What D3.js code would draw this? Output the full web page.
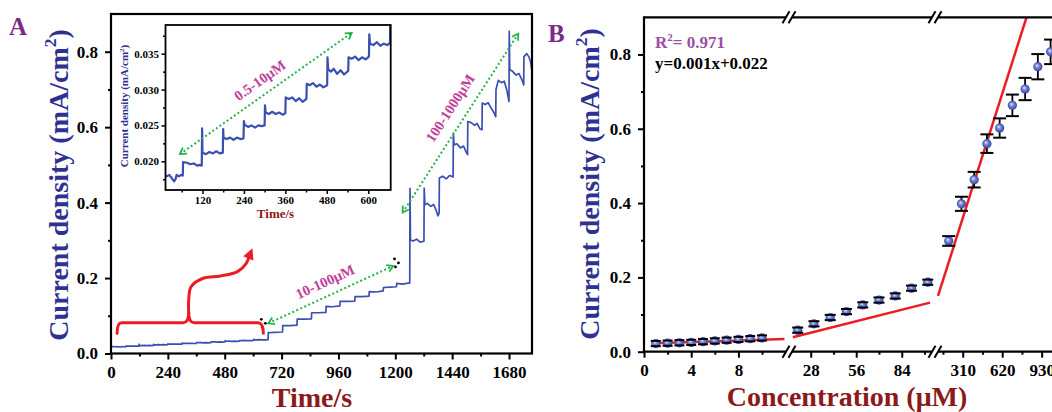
<!DOCTYPE html>
<html><head><meta charset="utf-8">
<script src="https://cdn.jsdelivr.net/npm/d3@7"></script>
<style>
html,body{margin:0;padding:0;background:#fff;}
svg{display:block;}
text{font-family:"Liberation Serif","Times New Roman",serif;font-weight:bold;}
</style></head><body>
<svg id="chart" width="1052" height="412"></svg>
<script>
// ================= DATA =================
// Panel A: amperometric current–time trace
const traceTime = [0,8,16,24,32,38,42,45,52,58,63,64,75,85,95,105,112,118,
 119,120,130,140,150,160,170,179,180,181,190,200,210,220,230,239,
 240,242,252,262,272,282,292,300,301,303,312,322,332,342,352,360,
 361,370,380,390,400,410,421,422,430,440,450,460,470,481,
 482,484,492,500,510,520,530,542,543,552,562,572,582,592,602,
 603,605,615,625,635,645,655,663,
 664,665,690,724,725,755,785,786,815,846,847,875,907,908,935,966,
 967,1000,1029,1030,1060,1089,1090,1120,1149,1150,1180,1205,1206,1230,1261,
 1262,1264,1275,1290,1305,1321,
 1322,1325,1335,1350,1362,1372,1380,1385,
 1386,1400,1415,1430,1444,
 1445,1448,1460,1475,1488,1498,1505,
 1506,1520,1535,1545,1558,1566,
 1567,1580,1592,1605,1615,1624,
 1625,1635,1648,1660,1670,1680,
 1681,1683,1695,1710,1722,1735,1742,
 1743,1755,1765,1772,1780];
const traceCurrent = [0.0184,0.0182,0.0179,0.0181,0.0176,0.0172,0.0175,0.0181,0.0179,0.0181,0.0180,0.0199,0.0198,0.0196,0.0197,0.0194,0.0195,0.0194,
 0.0246,0.0212,0.0210,0.0213,0.0211,0.0214,0.0211,0.0212,0.0245,0.0233,0.0231,0.0233,0.0230,0.0233,0.0231,0.0232,
 0.0256,0.0251,0.0248,0.0250,0.0247,0.0250,0.0249,0.0250,0.0278,0.0268,0.0266,0.0269,0.0266,0.0268,0.0265,0.0267,
 0.0289,0.0287,0.0289,0.0284,0.0288,0.0283,0.0287,0.0308,0.0306,0.0309,0.0304,0.0307,0.0303,0.0306,
 0.0345,0.0328,0.0325,0.0329,0.0322,0.0327,0.0321,0.0326,0.0345,0.0343,0.0346,0.0341,0.0345,0.0342,0.0346,
 0.0377,0.0364,0.0362,0.0366,0.0361,0.0364,0.0362,0.0365,
 0.0560,0.055,0.056,0.057,0.074,0.074,0.075,0.091,0.091,0.092,0.108,0.108,0.109,0.125,0.124,0.126,
 0.138,0.138,0.139,0.151,0.151,0.152,0.164,0.163,0.166,0.175,0.176,0.177,0.186,0.184,0.187,
 0.438,0.301,0.298,0.303,0.295,0.298,
 0.438,0.394,0.398,0.390,0.395,0.380,0.365,0.372,
 0.465,0.470,0.463,0.472,0.468,
 0.584,0.553,0.556,0.545,0.550,0.535,0.527,
 0.615,0.612,0.605,0.610,0.595,0.593,
 0.664,0.660,0.665,0.650,0.640,0.628,
 0.700,0.724,0.718,0.722,0.700,0.668,
 0.854,0.752,0.748,0.738,0.742,0.725,0.712,
 0.787,0.795,0.785,0.770,0.734];
const aXTicks = [0,240,480,720,960,1200,1440,1680];
const aXMinor = [120,360,600,840,1080,1320,1560];
const aYTicks = [0,0.2,0.4,0.6,0.8];
const aYMinor = [0.1,0.3,0.5,0.7];
const insetXTicks = [120,240,360,480,600];
const insetXMinor = [60,180,300,420,540];
const insetYTicks = [0.020,0.025,0.030,0.035];
const insetYMinor = [0.0175,0.0225,0.0275,0.0325,0.0375];

// Panel B: calibration (concentration µM, current density mA/cm²)
const concLow  = [1,2,3,4,5,6,7,8,9,10];
const densLow  = [0.022,0.023,0.024,0.025,0.027,0.029,0.031,0.033,0.035,0.037];
const errLow   = [0.007,0.007,0.007,0.007,0.007,0.007,0.007,0.007,0.007,0.007];
const concMid  = [20,30,40,50,60,70,80,90,100];
const densMid  = [0.058,0.075,0.092,0.108,0.126,0.139,0.150,0.171,0.187];
const errMid   = [0.007,0.007,0.007,0.007,0.007,0.007,0.007,0.007,0.007];
const concHigh = [200,300,400,500,600,700,800,900,1000];
const densHigh = [0.298,0.398,0.463,0.560,0.602,0.663,0.707,0.767,0.807];
const errHigh  = [0.013,0.019,0.021,0.025,0.026,0.029,0.030,0.034,0.033];
const fitLowX = [0.8,11.9],   fitLowY = [0.023,0.034];
const fitMidX = [17,101.4],   fitMidY = [0.039,0.132];
const fitHighX = [116,811],   fitHighY = [0.150,0.900];
const bTicksLow = [0,4,8],      bMinorLow = [2,6,10];
const bTicksMid = [28,56,84],   bMinorMid = [42,70,98];
const bTicksHigh = [310,620,930], bMinorHigh = [155,465,775];
const bYTicks = [0,0.2,0.4,0.6,0.8], bYMinor = [0.1,0.3,0.5,0.7];

// ================= STYLE =================
const BLUE_T = "#2e3192", RED_T = "#8b1a1a", TRACE = "#3a4fb1", GREEN = "#26b24b",
      MAG = "#c1409b", RED = "#ec1c24", PURPLE = "#7b2b8a", RPURP = "#9a4fa6";

const svg = d3.select("#chart");
const defs = svg.append("defs");

function styleAxis(g, fs, sw) {
  g.select(".domain").remove();
  g.selectAll("line").attr("stroke", "#000").attr("stroke-width", sw || 2);
  g.selectAll("text").attr("font-size", fs).attr("fill", "#000")
    .attr("font-family", '"Liberation Serif","Times New Roman",serif').attr("font-weight", "bold");
}
function yTitle(x, y, size, color) {
  const t = svg.append("text").attr("transform", `translate(${x},${y}) rotate(-90)`)
    .attr("text-anchor", "middle").attr("font-size", size).attr("fill", color);
  t.append("tspan").text("Current density (mA/cm");
  t.append("tspan").attr("font-size", size * 0.62).attr("dy", -size * 0.42).text("2");
  t.append("tspan").attr("dy", size * 0.42).text(")");
  return t;
}
function dblArrow(g, x1, y1, x2, y2) {
  g.append("line").attr("x1", x1).attr("y1", y1).attr("x2", x2).attr("y2", y2)
    .attr("stroke", GREEN).attr("stroke-width", 2).attr("stroke-dasharray", "2,2.4");
  const a = Math.atan2(y2 - y1, x2 - x1), h = 7, w = 0.55;
  [[x1, y1, a], [x2, y2, a + Math.PI]].forEach(([px, py, b]) => {
    g.append("path").attr("d",
      `M${px + h * Math.cos(b + w)},${py + h * Math.sin(b + w)}L${px},${py}L${px + h * Math.cos(b - w)},${py + h * Math.sin(b - w)}`)
      .attr("fill", "none").attr("stroke", GREEN).attr("stroke-width", 1.8);
  });
  return Math.atan2(y2 - y1, x2 - x1) * 180 / Math.PI;
}
function dots(g, x, y) {
  [[-2, -4], [2, 0], [-1, 4]].forEach(([dx, dy]) =>
    g.append("circle").attr("cx", x + dx).attr("cy", y + dy).attr("r", 1.4).attr("fill", "#000"));
}

// ================= PANEL A =================
const ax = d3.scaleLinear().domain([0, 1777]).range([111, 532]);
const ay = d3.scaleLinear().domain([0, 0.9]).range([353.5, 14]);
const gA = svg.append("g");

defs.append("clipPath").attr("id", "clipA").append("rect")
  .attr("x", ax.range()[0]).attr("y", ay.range()[1]).attr("width", ax.range()[1] - ax.range()[0]).attr("height", ay.range()[0] - ay.range()[1]);

const idx = d3.range(traceTime.length);
gA.append("path").attr("clip-path", "url(#clipA)")
  .attr("d", d3.line().x(i => ax(traceTime[i])).y(i => ay(traceCurrent[i]))(idx))
  .attr("fill", "none").attr("stroke", TRACE).attr("stroke-width", 1.7).attr("stroke-linejoin", "round");

gA.append("g").attr("transform", `translate(0,${ay(0)})`)
  .call(d3.axisBottom(ax).tickValues(aXTicks).tickSize(6).tickPadding(6.5).tickFormat(d3.format("d"))).call(styleAxis, 17);
gA.append("g").attr("transform", `translate(0,${ay(0)})`)
  .call(d3.axisBottom(ax).tickValues(aXMinor).tickSize(3).tickFormat("")).call(styleAxis, 17);
gA.append("g").attr("transform", `translate(${ax(0)},0)`)
  .call(d3.axisLeft(ay).tickValues(aYTicks).tickSize(6).tickPadding(7).tickFormat(d3.format(".1f"))).call(styleAxis, 17);
gA.append("g").attr("transform", `translate(${ax(0)},0)`)
  .call(d3.axisLeft(ay).tickValues(aYMinor).tickSize(3).tickFormat("")).call(styleAxis, 17);
gA.append("rect").attr("x", ax.range()[0]).attr("y", ay.range()[1])
  .attr("width", ax.range()[1] - ax.range()[0]).attr("height", ay.range()[0] - ay.range()[1])
  .attr("fill", "none").attr("stroke", "#000").attr("stroke-width", 2.2);

// ---- inset ----
const ix = d3.scaleLinear().domain([13, 665]).range([165.5, 390.7]);
const iy = d3.scaleLinear().domain([0.016, 0.039]).range([190, 25]);
const gI = svg.append("g");
gI.append("rect").attr("x", 165.5).attr("y", 25).attr("width", 225.2).attr("height", 165).attr("fill", "#fff");
defs.append("clipPath").attr("id", "clipI").append("rect")
  .attr("x", ix.range()[0]).attr("y", iy.range()[1]).attr("width", ix.range()[1] - ix.range()[0]).attr("height", iy.range()[0] - iy.range()[1]);
const idxI = idx.filter(i => traceTime[i] <= 700);
gI.append("path").attr("clip-path", "url(#clipI)")
  .attr("d", d3.line().x(i => ix(traceTime[i])).y(i => iy(Math.min(traceCurrent[i], 0.045)))(idxI))
  .attr("fill", "none").attr("stroke", TRACE).attr("stroke-width", 2.2).attr("stroke-linejoin", "round");
gI.append("g").attr("transform", `translate(0,${iy.range()[0]})`)
  .call(d3.axisBottom(ix).tickValues(insetXTicks).tickSize(4).tickPadding(2.5).tickFormat(d3.format("d"))).call(styleAxis, 11, 1.5);
gI.append("g").attr("transform", `translate(0,${iy.range()[0]})`)
  .call(d3.axisBottom(ix).tickValues(insetXMinor).tickSize(2.5).tickFormat("")).call(styleAxis, 11, 1.5);
gI.append("g").attr("transform", `translate(${ix.range()[0]},0)`)
  .call(d3.axisLeft(iy).tickValues(insetYTicks).tickSize(4).tickPadding(2.5).tickFormat(d3.format(".3f"))).call(styleAxis, 11, 1.5);
gI.append("g").attr("transform", `translate(${ix.range()[0]},0)`)
  .call(d3.axisLeft(iy).tickValues(insetYMinor).tickSize(2.5).tickFormat("")).call(styleAxis, 11, 1.5);
gI.append("rect").attr("x", 165.5).attr("y", 25).attr("width", 225.2).attr("height", 165)
  .attr("fill", "none").attr("stroke", "#000").attr("stroke-width", 1.8);
{
  const t = gI.append("text").attr("transform", "translate(128,106) rotate(-90)")
    .attr("text-anchor", "middle").attr("font-size", 11).attr("fill", BLUE_T);
  t.append("tspan").text("Current density (mA/cm");
  t.append("tspan").attr("font-size", 7).attr("dy", -4.5).text("2");
  t.append("tspan").attr("dy", 4.5).text(")");
}
gI.append("text").attr("x", 275.5).attr("y", 218).attr("text-anchor", "middle")
  .attr("font-size", 13).attr("fill", RED_T).text("Time/s");
{
  const ang = dblArrow(gI, ix(55), iy(0.0210), ix(552), iy(0.0379));
  gI.append("text").attr("transform", `translate(${ix(286)},${iy(0.0313)}) rotate(${ang})`)
    .attr("text-anchor", "middle").attr("dy", "0.35em").attr("font-size", 14.5).attr("fill", MAG).text("0.5-10μM");
}

// ---- annotations in main panel ----
{
  const g = svg.append("g");
  const a1 = dblArrow(g, ax(664), ay(0.080), ax(1191), ay(0.232));
  g.append("text").attr("transform", `translate(${ax(903)},${ay(0.1905)}) rotate(${a1})`)
    .attr("text-anchor", "middle").attr("dy", "0.35em").attr("font-size", 14.5).attr("fill", MAG).text("10-100μM");
  const a2 = dblArrow(g, ax(1231), ay(0.3736), ax(1719), ay(0.8477));
  g.append("text").attr("transform", `translate(${ax(1431)},${ay(0.6506)}) rotate(${a2})`)
    .attr("text-anchor", "middle").attr("dy", "0.35em").attr("font-size", 14.5).attr("fill", MAG).text("100-1000μM");
  dots(g, ax(643), ay(0.080));
  dots(g, ax(1205), ay(0.240));

  // red brace + curved arrow
  const yl = ay(0.0817), cx = ax(328);
  const br = `M${ax(25.7)},${ay(0.0536)} Q${ax(25.7)},${yl} ${ax(45)},${yl} L${ax(305)},${yl} Q${cx},${yl} ${cx},${ay(0.108)}`
           + ` M${ax(643)},${ay(0.0536)} Q${ax(643)},${yl} ${ax(620)},${yl} L${ax(351)},${yl} Q${cx},${yl} ${cx},${ay(0.108)}`;
  g.append("path").attr("d", br).attr("fill", "none").attr("stroke", RED).attr("stroke-width", 3).attr("stroke-linecap", "round");
  const curveT = [328, 328, 338, 389, 462, 534, 571, 586];
  const curveV = [0.106, 0.142, 0.177, 0.1995, 0.2056, 0.217, 0.239, 0.262];
  const pts = curveT.map((t, i) => [ax(t), ay(curveV[i])]);
  g.append("path").attr("d", d3.line().curve(d3.curveCatmullRom)(pts))
    .attr("fill", "none").attr("stroke", RED).attr("stroke-width", 3).attr("stroke-linecap", "round");
  const [px, py] = pts[pts.length - 1], [qx, qy] = pts[pts.length - 2];
  const b = Math.atan2(py - qy, px - qx), L = 11, W = 5.5;
  const tip = [px + 7 * Math.cos(b), py + 7 * Math.sin(b)];
  const base = [tip[0] - L * Math.cos(b), tip[1] - L * Math.sin(b)];
  g.append("path").attr("d",
    `M${tip[0]},${tip[1]}L${base[0] + W * Math.sin(b)},${base[1] - W * Math.cos(b)}L${base[0] - W * Math.sin(b)},${base[1] + W * Math.cos(b)}Z`)
    .attr("fill", RED);
}

svg.append("text").attr("x", 9).attr("y", 35).attr("font-size", 25).attr("fill", PURPLE).text("A");
yTitle(68, 185, 28, BLUE_T);
svg.append("text").attr("x", 312).attr("y", 407).attr("text-anchor", "middle").attr("font-size", 28).attr("fill", RED_T).text("Time/s");

// ================= PANEL B =================
const by = d3.scaleLinear().domain([0, 0.9]).range([351.7, 17.3]);
const bx1 = d3.scaleLinear().domain([0, 12.03]).range([644, 786]);
const bx2 = d3.scaleLinear().domain([16.5, 102.6]).range([792, 932]);
const bx3 = d3.scaleLinear().domain([116, 1388]).range([938, 1100]);
const gB = svg.append("g");

const grad = defs.append("radialGradient").attr("id", "ball").attr("cx", "50%").attr("cy", "50%").attr("r", "55%").attr("fx", "38%").attr("fy", "35%");
grad.append("stop").attr("offset", "0%").attr("stop-color", "#eef0ff");
grad.append("stop").attr("offset", "35%").attr("stop-color", "#7f8ee0");
grad.append("stop").attr("offset", "100%").attr("stop-color", "#2a3892");

defs.append("clipPath").attr("id", "clipB").append("rect").attr("x", 644).attr("y", 17.3).attr("width", 460).attr("height", 334.4);

// fit lines
[[bx1, fitLowX, fitLowY], [bx2, fitMidX, fitMidY], [bx3, fitHighX, fitHighY]].forEach(([sx, X, Y]) => {
  gB.append("line").attr("clip-path", "url(#clipB)")
    .attr("x1", sx(X[0])).attr("y1", by(Y[0])).attr("x2", sx(X[1])).attr("y2", by(Y[1]))
    .attr("stroke", RED).attr("stroke-width", 2.5);
});

// points with error bars
[[bx1, concLow, densLow, errLow, 5], [bx2, concMid, densMid, errMid, 5.5], [bx3, concHigh, densHigh, errHigh, 6.5]].forEach(([sx, X, Y, E, cw]) => {
  X.forEach((c, i) => {
    const x = sx(c);
    gB.append("line").attr("x1", x).attr("x2", x).attr("y1", by(Y[i] - E[i])).attr("y2", by(Y[i] + E[i]))
      .attr("stroke", "#000").attr("stroke-width", 1.8);
  });
  X.forEach((c, i) => {
    gB.append("circle").attr("cx", sx(c)).attr("cy", by(Y[i])).attr("r", 4.6).attr("fill", "url(#ball)");
  });
  X.forEach((c, i) => {
    const x = sx(c);
    [Y[i] - E[i], Y[i] + E[i]].forEach(v =>
      gB.append("line").attr("x1", x - cw).attr("x2", x + cw).attr("y1", by(v)).attr("y2", by(v))
        .attr("stroke", "#000").attr("stroke-width", 2));
  });
});

// axes
gB.append("g").attr("transform", `translate(644,0)`)
  .call(d3.axisLeft(by).tickValues(bYTicks).tickSize(6).tickPadding(7).tickFormat(d3.format(".1f"))).call(styleAxis, 17);
gB.append("g").attr("transform", `translate(644,0)`)
  .call(d3.axisLeft(by).tickValues(bYMinor).tickSize(3).tickFormat("")).call(styleAxis, 17);
[[bx1, bTicksLow, bMinorLow], [bx2, bTicksMid, bMinorMid], [bx3, bTicksHigh, bMinorHigh]].forEach(([sx, T, M]) => {
  gB.append("g").attr("transform", `translate(0,${by(0)})`)
    .call(d3.axisBottom(sx).tickValues(T).tickSize(6).tickPadding(6.5).tickFormat(d3.format("d"))).call(styleAxis, 17);
  gB.append("g").attr("transform", `translate(0,${by(0)})`)
    .call(d3.axisBottom(sx).tickValues(M).tickSize(3).tickFormat("")).call(styleAxis, 17);
  [by(0), by(0.9)].forEach(yy =>
    gB.append("line").attr("x1", sx.range()[0]).attr("x2", sx.range()[1]).attr("y1", yy).attr("y2", yy)
      .attr("stroke", "#000").attr("stroke-width", 2.2));
});
gB.append("line").attr("x1", 644).attr("x2", 644).attr("y1", by(0) + 1).attr("y2", by(0.9) - 1).attr("stroke", "#000").attr("stroke-width", 2.2);
// axis-break marks
[[bx1.range()[1], bx2.range()[0]], [bx2.range()[1], bx3.range()[0]]].forEach(([a, b]) => {
  [by(0), by(0.9)].forEach(yy => {
    [a, b].forEach(c => gB.append("line").attr("x1", c - 3.5).attr("y1", yy + 6).attr("x2", c + 3.5).attr("y2", yy - 6)
      .attr("stroke", "#000").attr("stroke-width", 2));
  });
});

{
  const t = gB.append("text").attr("x", 655).attr("y", 48).attr("font-size", 17).attr("fill", RPURP);
  t.append("tspan").text("R");
  t.append("tspan").attr("font-size", 11).attr("dy", -7).text("2");
  t.append("tspan").attr("dy", 7).text("= 0.971");
  gB.append("text").attr("x", 655).attr("y", 69).attr("font-size", 17).attr("fill", "#000").text("y=0.001x+0.022");
}
svg.append("text").attr("x", 548).attr("y", 41.5).attr("font-size", 25).attr("fill", PURPLE).text("B");
yTitle(599, 184, 28, BLUE_T);
svg.append("text").attr("x", 847).attr("y", 406).attr("text-anchor", "middle").attr("font-size", 28).attr("fill", RED_T).text("Concentration (μM)");
</script>
</body></html>
